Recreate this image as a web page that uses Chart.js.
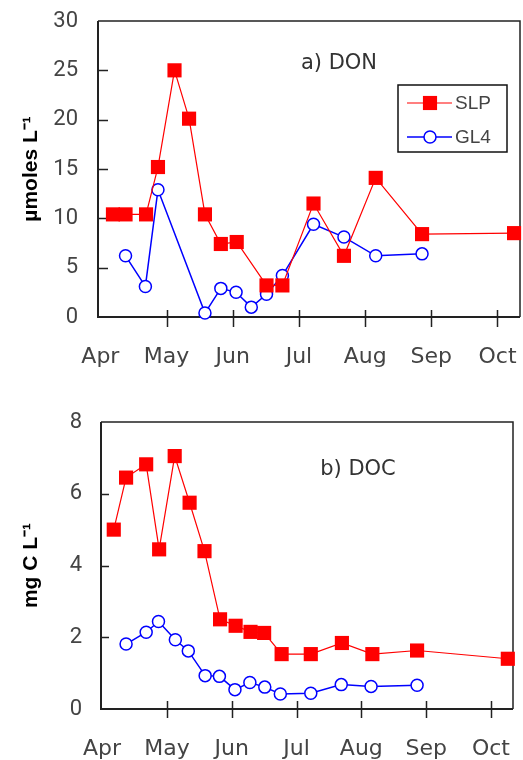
<!DOCTYPE html>
<html>
<head>
<meta charset="utf-8">
<script src="https://cdn.jsdelivr.net/npm/chart.js@4/dist/chart.umd.min.js"></script>
<style>
  html, body { margin: 0; padding: 0; background: #fff; }
  .panel { position: absolute; left: 0; width: 523px; height: 380px; }
  #panelA { top: 0; }
  #panelB { top: 380px; }
</style>
</head>
<body>
<div class="panel" id="panelA"><canvas id="don" width="523" height="380"></canvas></div>
<div class="panel" id="panelB"><canvas id="doc" width="523" height="380"></canvas></div>
<script>
// x values are months after 1 April (0 = Apr, 1 = May, ...)
const monthLabels = ['Apr', 'May', 'Jun', 'Jul', 'Aug', 'Sep', 'Oct'];

// a) DON, umoles L-1
const donSlpDates  = [0.19, 0.38, 0.69, 0.87, 1.12, 1.34, 1.58, 1.82, 2.06, 2.51, 2.75, 3.22, 3.68, 4.16, 4.86, 6.25];
const donSlpValues = [10.4, 10.4, 10.4, 15.2, 25.0, 20.1, 10.4, 7.4, 7.6, 3.2, 3.2, 11.5, 6.2, 14.1, 8.4, 8.5];
const donGl4Dates  = [0.38, 0.68, 0.87, 1.58, 1.82, 2.05, 2.28, 2.51, 2.75, 3.22, 3.68, 4.16, 4.86];
const donGl4Values = [6.2, 3.1, 12.9, 0.4, 2.9, 2.5, 1.0, 2.3, 4.2, 9.4, 8.1, 6.2, 6.4];

// b) DOC, mg C L-1
const docSlpDates  = [0.18, 0.37, 0.68, 0.88, 1.12, 1.35, 1.58, 1.82, 2.06, 2.29, 2.50, 2.77, 3.22, 3.70, 4.17, 4.86, 6.26];
const docSlpValues = [5.0, 6.45, 6.82, 4.45, 7.05, 5.75, 4.4, 2.5, 2.32, 2.15, 2.12, 1.53, 1.53, 1.84, 1.53, 1.63, 1.40];
const docGl4Dates  = [0.37, 0.68, 0.87, 1.13, 1.33, 1.59, 1.81, 2.05, 2.28, 2.51, 2.75, 3.22, 3.69, 4.15, 4.86];
const docGl4Values = [1.81, 2.14, 2.44, 1.93, 1.62, 0.93, 0.91, 0.54, 0.74, 0.61, 0.42, 0.44, 0.68, 0.63, 0.66];

const RED = '#ff0000';
const BLUE = '#0000ff';
const AXIS = '#222';

function toPoints(xs, ys) {
  return xs.map((x, i) => ({ x: x, y: ys[i] }));
}

function slpDataset(xs, ys) {
  return {
    label: 'SLP',
    data: toPoints(xs, ys),
    borderColor: RED,
    borderWidth: 1.2,
    pointStyle: 'rect',
    pointRadius: 10,
    pointBackgroundColor: RED,
    pointBorderColor: RED,
    pointBorderWidth: 0,
    tension: 0,
    clip: false
  };
}

function gl4Dataset(xs, ys) {
  return {
    label: 'GL4',
    data: toPoints(xs, ys),
    borderColor: BLUE,
    borderWidth: 1.5,
    pointStyle: 'circle',
    pointRadius: 6,
    pointBackgroundColor: '#fff',
    pointBorderColor: BLUE,
    pointBorderWidth: 1.5,
    tension: 0,
    clip: false
  };
}

// frame + tick marks that point into the plot
const frameTicks = {
  id: 'frameTicks',
  beforeDatasetsDraw(chart, args, opts) {
    const { ctx, chartArea: a, scales } = chart;
    ctx.save();
    ctx.strokeStyle = AXIS;
    ctx.lineWidth = 1.5;
    ctx.beginPath();
    ctx.moveTo(a.left, a.top); ctx.lineTo(a.right, a.top); ctx.lineTo(a.right, a.bottom);
    ctx.stroke();
    ctx.lineWidth = 2;
    ctx.beginPath();
    ctx.moveTo(a.left, a.top); ctx.lineTo(a.left, a.bottom); ctx.lineTo(a.right, a.bottom);
    ctx.stroke();
    ctx.lineWidth = 1.5;
    ctx.beginPath();
    scales.y.ticks.forEach(t => {
      if (t.value <= scales.y.min || t.value >= scales.y.max) return;
      const y = Math.round(scales.y.getPixelForValue(t.value)) + 0.5;
      ctx.moveTo(a.left, y); ctx.lineTo(a.left + opts.yTick, y);
    });
    scales.x.ticks.forEach(t => {
      if (t.value <= 0) return;
      const x = Math.round(scales.x.getPixelForValue(t.value)) + 0.5;
      ctx.moveTo(x, a.bottom - opts.xIn); ctx.lineTo(x, a.bottom + opts.xOut);
    });
    ctx.stroke();
    ctx.restore();
  },
  afterDraw(chart, args, opts) {
    const { ctx } = chart;
    ctx.save();
    ctx.fillStyle = '#333';
    ctx.font = '21px "DejaVu Sans"';
    ctx.textAlign = 'center';
    ctx.textBaseline = 'middle';
    ctx.fillText(opts.panelLabel, opts.labelX, opts.labelY);

    if (opts.legend) {
      const L = opts.legend;
      ctx.strokeStyle = '#111';
      ctx.lineWidth = 1.5;
      ctx.strokeRect(L.x, L.y, L.w, L.h);
      chart.data.datasets.forEach((ds, i) => {
        const ry = L.y + 18 + i * 34;
        ctx.strokeStyle = ds.borderColor;
        ctx.lineWidth = ds.borderWidth;
        ctx.beginPath();
        ctx.moveTo(L.x + 9, ry); ctx.lineTo(L.x + 54, ry);
        ctx.stroke();
        ctx.fillStyle = ds.pointBackgroundColor;
        ctx.strokeStyle = ds.pointBorderColor;
        ctx.lineWidth = ds.pointBorderWidth;
        Chart.helpers.drawPoint(ctx, {
          pointStyle: ds.pointStyle, radius: ds.pointRadius, rotation: 0, borderWidth: ds.pointBorderWidth
        }, L.x + 32, ry);
        ctx.fillStyle = '#444';
        ctx.font = '19px "Liberation Sans"';
        ctx.textAlign = 'left';
        ctx.fillText(ds.label, L.x + 57, ry + 1);
      });
    }
    ctx.restore();
  }
};

function makeChart(id, cfg) {
  return new Chart(document.getElementById(id), {
    type: 'line',
    data: { datasets: [slpDataset(cfg.slpX, cfg.slpY), gl4Dataset(cfg.gl4X, cfg.gl4Y)] },
    plugins: [frameTicks],
    options: {
      responsive: false,
      animation: false,
      devicePixelRatio: 1,
      layout: { autoPadding: false, padding: { top: cfg.top, right: cfg.right, left: 0, bottom: 0 } },
      plugins: {
        legend: { display: false },
        tooltip: { enabled: false },
        frameTicks: {
          yTick: cfg.yTick, xIn: cfg.xIn, xOut: cfg.xOut,
          panelLabel: cfg.panelLabel, labelX: cfg.labelX, labelY: cfg.labelY,
          legend: cfg.legend
        }
      },
      scales: {
        x: {
          type: 'linear',
          min: cfg.xMin,
          max: cfg.xMax,
          grid: { display: false },
          border: { display: false },
          afterBuildTicks: s => { s.ticks = monthLabels.map((m, i) => ({ value: i })); },
          afterFit: s => { s.height = cfg.xHeight; s.paddingLeft = 0; s.paddingRight = 0; },
          ticks: {
            autoSkip: false,
            maxRotation: 0,
            padding: 19,
            color: '#444',
            font: { family: '"DejaVu Sans"', size: 22 },
            callback: v => monthLabels[Math.round(v)]
          }
        },
        y: {
          min: 0,
          max: cfg.yMax,
          grid: { display: false },
          border: { display: false },
          afterFit: s => { s.width = cfg.yWidth; s.paddingTop = 0; s.paddingBottom = 0; },
          ticks: {
            stepSize: cfg.yStep,
            padding: cfg.yPad,
            color: '#444',
            font: { family: 'Roboto', size: 22 }
          },
          title: {
            display: true,
            text: cfg.yTitle,
            color: '#000',
            font: { family: '"Liberation Sans"', size: 21, weight: 'bold' },
            padding: { top: 19, bottom: 0 }
          }
        }
      }
    }
  });
}

makeChart('don', {
  slpX: donSlpDates, slpY: donSlpValues, gl4X: donGl4Dates, gl4Y: donGl4Values,
  xMin: -0.036, xMax: 6.34, yMax: 30, yStep: 5,
  top: 21, right: 3, yWidth: 98, xHeight: 63, yPad: 12,
  yTick: 10, xIn: 7, xOut: 10,
  yTitle: 'µmoles L⁻¹',
  panelLabel: 'a) DON', labelX: 339, labelY: 64,
  legend: { x: 398, y: 85, w: 109, h: 67 }
});

makeChart('doc', {
  slpX: docSlpDates, slpY: docSlpValues, gl4X: docGl4Dates, gl4Y: docGl4Values,
  xMin: -0.017, xMax: 6.34, yMax: 8, yStep: 2,
  top: 42, right: 10, yWidth: 101, xHeight: 51, yPad: 11,
  yTick: 8, xIn: 8, xOut: 9,
  yTitle: 'mg C L⁻¹',
  panelLabel: 'b) DOC', labelX: 358, labelY: 90,
  legend: null
});
</script>
</body>
</html>
